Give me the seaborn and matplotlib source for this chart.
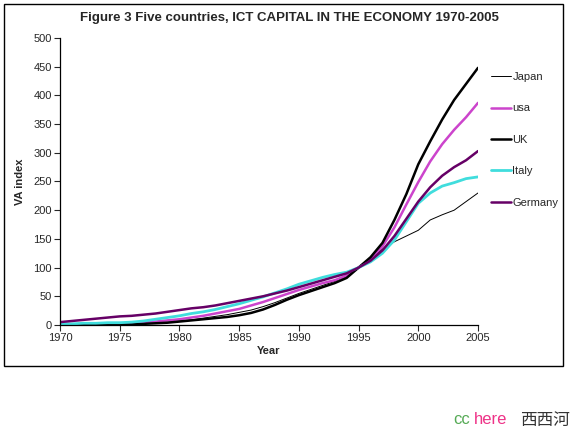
import matplotlib
matplotlib.use("Agg")
import matplotlib.pyplot as plt
import pandas as pd
import seaborn as sns
from matplotlib.patches import Rectangle

years = list(range(1970, 2006))

japan = [1, 1, 1, 1, 2, 2, 2, 3, 4, 5, 7, 9, 12, 15, 18, 22, 26, 32, 39, 47, 55, 62, 69, 76, 85, 100,
         115, 132, 145, 155, 165, 183, 192, 200, 215, 230]
usa = [1, 1, 1, 2, 2, 2, 3, 4, 6, 8, 10, 13, 16, 20, 24, 28, 34, 40, 47, 54, 61, 67, 73, 78, 86, 100,
       115, 137, 170, 210, 249, 285, 315, 340, 362, 387]
uk = [0, 0, 0, 1, 1, 1, 1, 2, 3, 4, 6, 8, 10, 12, 14, 17, 21, 27, 35, 44, 52, 59, 66, 73, 82, 100,
      118, 143, 183, 228, 280, 320, 358, 392, 420, 448]
italy = [2, 2, 3, 3, 4, 4, 5, 7, 10, 13, 16, 20, 23, 27, 32, 37, 43, 49, 56, 63, 71, 77, 83, 88, 92, 100,
         110, 125, 148, 180, 212, 230, 242, 248, 255, 258]
germany = [5, 7, 9, 11, 13, 15, 16, 18, 20, 23, 26, 29, 31, 34, 38, 42, 46, 50, 55, 60, 66, 72, 78, 84, 90, 100,
           112, 130, 155, 185, 215, 240, 260, 275, 287, 303]

countries = ["Japan", "usa", "UK", "Italy", "Germany"]
series = [japan, usa, uk, italy, germany]
palette = {"Japan": "#000000", "usa": "#cc44cc", "UK": "#000000", "Italy": "#40dddd", "Germany": "#660066"}
widths = {"Japan": 0.7, "usa": 1.8, "UK": 1.8, "Italy": 2.0, "Germany": 1.8}

df = pd.concat([pd.DataFrame({"Year": years, "VA index": vals, "country": name})
                for name, vals in zip(countries, series)], ignore_index=True)

sns.set_theme(style="ticks")
plt.rcParams["font.family"] = ["Liberation Sans", "DejaVu Sans"]

fig = plt.figure(figsize=(5.76, 4.32), dpi=100)
ax = fig.add_axes([60 / 576, 1 - 325 / 432, 418 / 576, 287 / 432])

for name in countries:
    sns.lineplot(data=df[df["country"] == name], x="Year", y="VA index", ax=ax,
                 color=palette[name], lw=widths[name], label=name)

ax.set_xlim(1970, 2005)
ax.set_ylim(0, 500)
ax.set_xticks(range(1970, 2006, 5))
ax.set_yticks(range(0, 501, 50))
ax.tick_params(labelsize=8, length=4, width=0.8, direction="out", pad=2)
for side in ["top", "right"]:
    ax.spines[side].set_visible(False)
for side in ["left", "bottom"]:
    ax.spines[side].set_linewidth(0.9)
    ax.spines[side].set_color("black")
ax.set_xlabel("Year", fontsize=8, fontweight="bold", labelpad=2)
ax.set_ylabel("VA index", fontsize=8, fontweight="bold", labelpad=6)

ax.legend(loc="upper left", bbox_to_anchor=(1.02, 0.897), frameon=False, fontsize=8,
          labelspacing=1.93, handlelength=1.8, handletextpad=0.15, borderaxespad=0)

fig.text(0.503, 0.958, "Figure 3 Five countries, ICT CAPITAL IN THE ECONOMY 1970-2005",
         ha="center", va="center", fontsize=9.5, fontweight="bold")

fig.patches.append(Rectangle((4 / 576, 1 - 366 / 432), 559 / 576, 362 / 432, transform=fig.transFigure,
                             fill=False, edgecolor="black", lw=1))

fig.text(453 / 576, 1 - 420 / 432, "cc", color="#55aa55", fontsize=12, va="center")
fig.text(474 / 576, 1 - 420 / 432, "here", color="#ee3388", fontsize=12, va="center")
fig.text(520 / 576, 1 - 420 / 432, "西西河", color="#333333", fontsize=12, va="center",
         family=["Noto Sans CJK SC", "DejaVu Sans"])

fig.savefig("out.png", dpi=100)
